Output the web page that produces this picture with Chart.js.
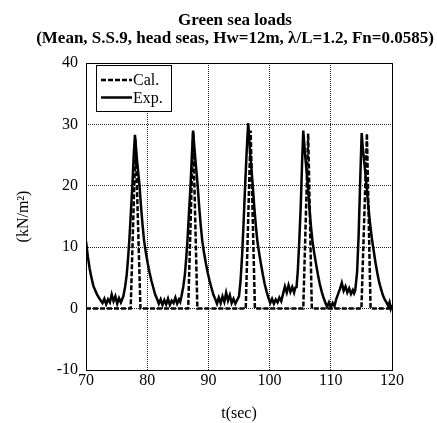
<!DOCTYPE html>
<html lang="en">
<head>
    <meta charset="UTF-8" />
    <title>Green sea loads</title>
    <script src="https://cdn.jsdelivr.net/npm/chart.js"></script>
    <style>
        html, body { margin: 0; padding: 0; background: #fff; }
        #wrap { width: 437px; height: 423px; }
    </style>
</head>
<body>
    <div id="wrap"><canvas id="greenSeaChart" width="437" height="423"></canvas></div>

    <script>
        const titleText = 'Green sea loads';
        const subtitleText = '(Mean, S.S.9, head seas, Hw=12m, λ/L=1.2, Fn=0.0585)';
        const seriesLabels = ['Cal.', 'Exp.'];

        // calculated pressure (triangular pulses on zero baseline)
        const calTime = [70, 77.3, 78.1, 78.9, 86.7, 87.5, 88.2, 96.1, 96.9, 97.6, 105.5, 106.3, 106.9, 115.0, 115.9, 116.5, 120];
        const calLoad = [0, 0, 27.5, 0, 0, 28.8, 0, 0, 29.0, 0, 0, 28.5, 0, 0, 28.5, 0, 0];

        // measured pressure
        const expTime = [
            70.0, 70.3, 70.6, 70.9, 71.2, 71.5, 71.8, 72.1, 72.4, 72.7, 73.0, 73.3, 73.6, 73.9, 74.2, 74.5, 74.8, 75.1, 75.4, 75.7,
            76.1, 76.4, 76.65, 76.9, 77.1, 77.35, 77.6, 77.8, 78.0, 78.15, 78.35, 78.55, 78.75, 79.0, 79.25, 79.5, 79.8, 80.1, 80.4, 80.7, 81.0, 81.3, 81.6,
            81.9, 82.2, 82.5, 82.8, 83.1, 83.4, 83.7, 84.0, 84.3, 84.6, 84.9, 85.2, 85.4,
            85.6, 85.9, 86.15, 86.4, 86.6, 86.85, 87.1, 87.3, 87.5, 87.65, 87.85, 88.05, 88.25, 88.5, 88.75, 89.0, 89.3, 89.6, 89.9, 90.2, 90.5, 90.8, 91.1,
            91.4, 91.7, 92.0, 92.3, 92.6, 92.9, 93.2, 93.5, 93.8, 94.1, 94.4, 94.7,
            95.0, 95.25, 95.5, 95.75, 96.0, 96.25, 96.5, 96.65, 96.85, 97.05, 97.25, 97.5, 97.75, 98.0, 98.3, 98.6, 98.9, 99.2, 99.5, 99.8,
            100.1, 100.4, 100.7, 101.0, 101.3, 101.6, 101.9, 102.2, 102.5, 102.8, 103.1, 103.4, 103.7, 104.0, 104.2,
            104.4, 104.6, 104.85, 105.1, 105.3, 105.5, 105.65, 105.85, 106.05, 106.25, 106.5, 106.75, 107.0, 107.3, 107.6, 107.9, 108.2, 108.5, 108.8, 109.1,
            109.4, 109.7, 110.0, 110.3, 110.6, 110.9, 111.2, 111.5, 111.8, 112.1, 112.4, 112.7, 113.0, 113.3, 113.6, 113.8,
            114.0, 114.3, 114.55, 114.75, 114.9, 115.05, 115.2, 115.4, 115.6, 115.85, 116.1, 116.4, 116.7, 117.0, 117.3, 117.6, 117.9, 118.2, 118.5, 118.8, 119.1,
            119.4, 119.6, 119.8, 120.0
        ];
        const expLoad = [
            11.0, 8.5, 6.5, 5.0, 3.7, 3.0, 2.3, 1.8, 1.3, 0.9, 1.6, 0.7, 1.5, 1.0, 2.3, 1.2, 2.0, 0.8, 1.7, 1.0,
            2.0, 3.6, 5.5, 8.5, 11.5, 16.0, 20.5, 25.0, 28.3, 26.5, 24.0, 22.0, 20.0, 16.5, 13.5, 11.0, 9.0, 7.3, 5.8, 4.5, 3.4, 2.3, 1.6,
            0.8, 1.5, 0.6, 1.4, 0.7, 1.6, 0.6, 1.3, 0.9, 1.8, 0.8, 1.5, 1.1,
            2.0, 3.6, 5.5, 8.5, 11.5, 16.0, 20.5, 25.0, 29.0, 27.0, 24.5, 22.3, 20.0, 16.5, 13.5, 11.0, 9.0, 7.3, 5.8, 4.5, 3.4, 2.3, 1.6,
            0.8, 1.8, 0.9, 2.0, 1.1, 2.6, 1.3, 2.2, 0.9, 1.6, 0.8, 1.4,
            2.0, 4.5, 8.5, 14.0, 20.0, 25.5, 30.2, 28.0, 25.0, 22.5, 20.0, 16.5, 13.5, 11.0, 9.0, 7.2, 5.5, 4.0, 2.8, 1.8,
            0.9, 1.6, 0.8, 1.5, 1.0, 1.8, 1.2, 2.4, 3.6, 2.6, 3.8, 2.7, 3.5, 2.6, 3.4,
            3.5, 6.0, 11.0, 17.0, 23.5, 29.0, 27.0, 24.5, 22.3, 20.0, 16.5, 13.5, 11.0, 9.0, 7.2, 5.5, 4.0, 2.8, 1.8, 1.0,
            0.3, 1.0, 0.2, 0.9, 0.4, 1.6, 2.4, 3.2, 4.2, 2.9, 3.6, 2.6, 3.3, 2.4, 3.0, 2.5,
            3.0, 6.0, 12.0, 19.0, 24.0, 28.6, 26.5, 24.5, 22.5, 20.0, 17.0, 14.0, 11.5, 9.5, 7.5, 5.8, 4.3, 3.2, 2.2, 1.5, 1.0,
            0.4, 1.0, 0.0, 0.6
        ];

        const serif = "'Liberation Serif', 'Times New Roman', serif";

        // title lines above the plot, legend box and frame inside it
        const decorations = {
            id: 'decorations',
            afterDraw(chart) {
                const ctx = chart.ctx;
                const area = chart.chartArea;
                ctx.save();

                // frame
                ctx.strokeStyle = '#000';
                ctx.lineWidth = 1;
                ctx.setLineDash([]);
                ctx.strokeRect(area.left + 0.5, area.top + 0.5, area.right - area.left, area.bottom - area.top);

                // titles
                ctx.fillStyle = '#000';
                ctx.textAlign = 'center';
                ctx.textBaseline = 'alphabetic';
                ctx.font = 'bold 17px ' + serif;
                ctx.fillText(titleText, 235, 25);
                ctx.fillText(subtitleText, 235, 43);

                // legend
                const bx = area.left + 10, by = area.top + 2, bw = 75, bh = 46;
                ctx.fillStyle = '#fff';
                ctx.fillRect(bx, by, bw, bh);
                ctx.strokeStyle = '#000';
                ctx.strokeRect(bx + 0.5, by + 0.5, bw, bh);
                ctx.font = '16px ' + serif;
                ctx.textAlign = 'left';
                ctx.textBaseline = 'middle';
                chart.data.datasets.forEach((ds, i) => {
                    const ly = by + 15 + i * 17.5;
                    ctx.beginPath();
                    ctx.lineWidth = 2.5;
                    ctx.setLineDash(ds.borderDash || []);
                    ctx.moveTo(bx + 5, ly);
                    ctx.lineTo(bx + 36, ly);
                    ctx.stroke();
                    ctx.setLineDash([]);
                    ctx.fillStyle = '#000';
                    ctx.fillText(ds.label, bx + 37, ly + 1);
                });
                ctx.restore();
            }
        };

        const ctx = document.getElementById('greenSeaChart').getContext('2d');
        const chart = new Chart(ctx, {
            type: 'line',
            data: {
                datasets: [{
                    label: seriesLabels[0],
                    data: calTime.map((t, i) => ({ x: t, y: calLoad[i] })),
                    borderColor: '#000',
                    borderWidth: 2.5,
                    borderDash: [5, 2],
                    pointRadius: 0,
                    tension: 0,
                    fill: false
                }, {
                    label: seriesLabels[1],
                    data: expTime.map((t, i) => ({ x: t, y: expLoad[i] })),
                    borderColor: '#000',
                    borderWidth: 2.5,
                    pointRadius: 0,
                    tension: 0,
                    fill: false
                }]
            },
            options: {
                responsive: false,
                animation: false,
                devicePixelRatio: 1,
                layout: { padding: { top: 63, right: 45, left: 0, bottom: 0 } },
                plugins: {
                    legend: { display: false },
                    title: { display: false },
                    tooltip: { enabled: false }
                },
                scales: {
                    x: {
                        type: 'linear',
                        min: 70,
                        max: 120,
                        afterFit: (scale) => { scale.height = 53; },
                        ticks: { stepSize: 10, color: '#000', padding: 1, maxRotation: 0, font: { family: serif, size: 16 } },
                        grid: { color: '#222', drawTicks: false, lineWidth: 1 },
                        border: { display: false, dash: [1, 1] },
                        title: { display: true, text: 't(sec)', color: '#000', padding: { top: 0, bottom: 0 }, font: { family: serif, size: 16 } }
                    },
                    y: {
                        min: -10,
                        max: 40,
                        afterFit: (scale) => { scale.width = 86; },
                        ticks: { stepSize: 10, color: '#000', padding: 8, font: { family: serif, size: 16 } },
                        grid: { color: '#222', drawTicks: false, lineWidth: 1 },
                        border: { display: false, dash: [1, 1] },
                        title: { display: true, text: '(kN/m²)', color: '#000', padding: { top: 14, bottom: 0 }, font: { family: serif, size: 16 } }
                    }
                }
            },
            plugins: [decorations]
        });
    </script>
</body>
</html>
